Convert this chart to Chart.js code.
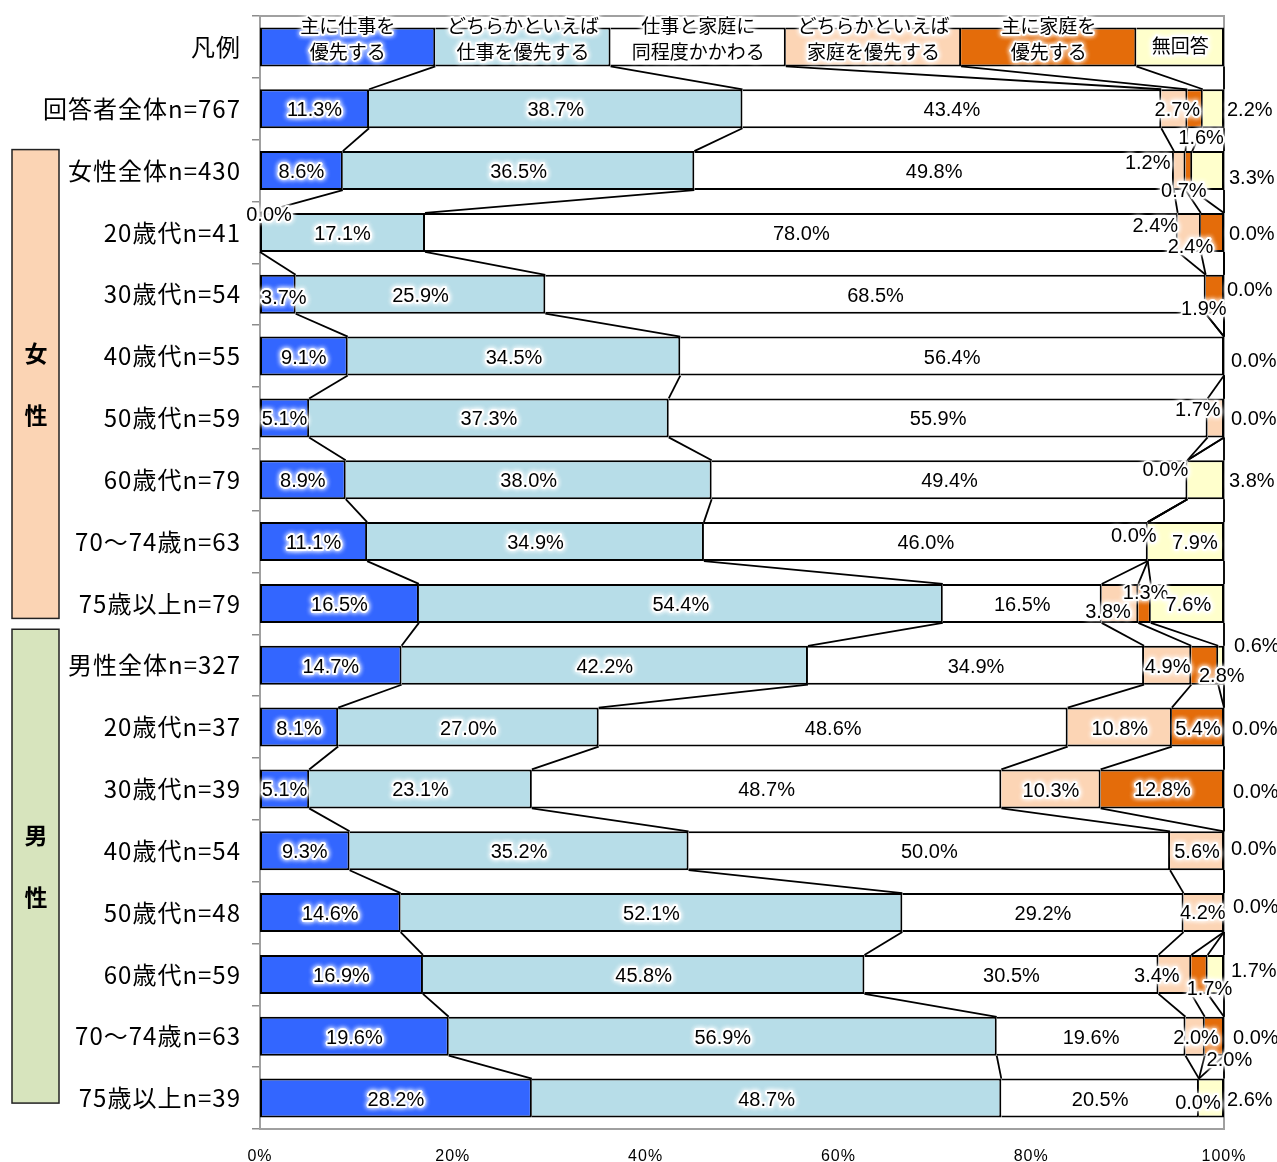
<!DOCTYPE html>
<html lang="ja">
<head>
<meta charset="utf-8">
<script src="https://cdn.jsdelivr.net/npm/chart.js@4.4.1/dist/chart.umd.min.js"></script>
<style>
  html, body { margin: 0; padding: 0; background: #ffffff; }
  #wrap { width: 1277px; height: 1162px; }
</style>
</head>
<body>
<div id="wrap"><canvas id="chart" width="1277" height="1162"></canvas></div>
<script>
// Row labels (the first row is the legend row)
const categories = [
  '凡例', '回答者全体n=767',
  '女性全体n=430', '20歳代n=41', '30歳代n=54', '40歳代n=55', '50歳代n=59', '60歳代n=79', '70～74歳n=63', '75歳以上n=79',
  '男性全体n=327', '20歳代n=37', '30歳代n=39', '40歳代n=54', '50歳代n=48', '60歳代n=59', '70～74歳n=63', '75歳以上n=39'
];

// Answer categories, written as they appear in the legend row
const seriesNames = [
  ['主に仕事を', '優先する'],
  ['どちらかといえば', '仕事を優先する'],
  ['仕事と家庭に', '同程度かかわる'],
  ['どちらかといえば', '家庭を優先する'],
  ['主に家庭を', '優先する'],
  ['無回答']
];

// Relative widths of the legend-row boxes
const legendShares = [2, 2, 2, 2, 2, 1];

// Percentages for each respondent group (rows 2..18)
const workMain = [11.3, 8.6, 0.0, 3.7, 9.1, 5.1, 8.9, 11.1, 16.5, 14.7, 8.1, 5.1, 9.3, 14.6, 16.9, 19.6, 28.2];
const workLean = [38.7, 36.5, 17.1, 25.9, 34.5, 37.3, 38.0, 34.9, 54.4, 42.2, 27.0, 23.1, 35.2, 52.1, 45.8, 56.9, 48.7];
const equalBoth = [43.4, 49.8, 78.0, 68.5, 56.4, 55.9, 49.4, 46.0, 16.5, 34.9, 48.6, 48.7, 50.0, 29.2, 30.5, 19.6, 20.5];
const homeLean = [2.7, 1.2, 2.4, 0.0, 0.0, 1.7, 0.0, 0.0, 3.8, 4.9, 10.8, 10.3, 5.6, 4.2, 3.4, 2.0, 0.0];
const homeMain = [1.6, 0.7, 2.4, 1.9, 0.0, 0.0, 0.0, 0.0, 1.3, 2.8, 5.4, 12.8, 0.0, 0.0, 1.7, 2.0, 0.0];
const noAnswer = [2.2, 3.3, 0.0, 0.0, 0.0, 0.0, 3.8, 7.9, 7.6, 0.6, 0.0, 0.0, 0.0, 0.0, 1.7, 0.0, 2.6];

const xTickLabels = ['0%', '20%', '40%', '60%', '80%', '100%'];

const seriesValues = [workMain, workLean, equalBoth, homeLean, homeMain, noAnswer];
const seriesColors = ['#3366FF', '#B7DDE8', '#FFFFFF', '#FCD5B5', '#E46C0A', '#FFFFCC'];

// Value-label placement per row/series: [anchor, dx, dy]
// 'c' = centre of the segment, 'e' = just past the 100% end (left aligned); null = no label
const C = ['c', 0, 0];
const labelPlacement = [
  [C, C, C, ['c', 3, 0], ['c', 6, 28], ['e', 3, 0]],
  [C, C, C, ['c', -32, -9], ['c', -5, 19], ['e', 5, 6]],
  [['c', 9, -19], C, C, ['c', -34, -8], ['c', -22, 13], ['e', 5, 0]],
  [['c', 6, 2], C, C, null, ['c', -11, 13], ['e', 3, -6]],
  [C, C, C, null, null, ['e', 7, 3]],
  [C, C, C, ['c', -18, -9], null, ['e', 7, 0]],
  [C, C, C, ['c', -22, -11], null, ['e', 5, 0]],
  [C, C, C, ['c', -14, -7], null, ['c', 9, 0]],
  [C, C, C, ['c', -12, 7], ['c', 1, -12], ['c', 1, 0]],
  [C, C, C, C, ['c', 17, 9], ['e', 10, -21]],
  [C, C, C, C, C, ['e', 8, 0]],
  [C, C, C, ['c', 0, 1], C, ['e', 9, 2]],
  [C, C, C, C, null, ['e', 7, -3]],
  [C, C, C, ['c', -1, -1], null, ['e', 9, -7]],
  [C, C, C, ['c', -18, 0], ['c', 10, 13], ['e', 7, -5]],
  [C, C, C, ['c', 1, 0], ['c', 15, 22], ['e', 9, 0]],
  [C, C, C, ['c', -1, 3], null, ['e', 3, 0]]
];
const LABEL_BASELINE_SHIFT = 2;

// Group boxes on the far left: [text, first row, last row, fill]
const groups = [
  [['女', '性'], 2, 9, '#FBD4B4'],
  [['男', '性'], 10, 17, '#D7E4BD']
];

// 100%-stacked rows: each row is scaled to a total of 100
const legendTotal = legendShares.reduce((a, b) => a + b, 0);
const rowTotals = workMain.map((_, i) => seriesValues.reduce((s, arr) => s + arr[i], 0));
const datasets = seriesValues.map((arr, k) => ({
  label: seriesNames[k].join(''),
  data: [legendShares[k] / legendTotal * 100].concat(arr.map((v, i) => v / rowTotals[i] * 100)),
  backgroundColor: seriesColors[k],
  borderColor: '#000000',
  borderWidth: 2,
  borderSkipped: (ctx) => {
    const i = ctx.dataIndex;
    let before = 0;
    for (let j = 0; j < ctx.datasetIndex; j++) before += ctx.chart.data.datasets[j].data[i];
    return before > 0 ? 'start' : false;
  },
  barPercentage: 1,
  categoryPercentage: 0.63,
  stack: 'all'
}));

const LABEL_FONT = '20px "Liberation Sans", Arial, sans-serif';
const CJK = '"Noto Sans CJK JP", "Noto Sans", sans-serif';

function glowText(ctx, text, x, y, align) {
  ctx.save();
  ctx.textAlign = align;
  ctx.textBaseline = 'middle';
  ctx.lineJoin = 'round';
  ctx.shadowColor = '#ffffff';
  ctx.shadowBlur = 5;
  ctx.strokeStyle = 'rgba(255,255,255,0.95)';
  ctx.lineWidth = 3.5;
  ctx.strokeText(text, x, y);
  ctx.strokeText(text, x, y);
  ctx.shadowBlur = 0;
  ctx.fillStyle = '#000000';
  ctx.fillText(text, x, y);
  ctx.restore();
}

// Slightly wider character spacing for the axis captions, normal for everything after them
const axisSpacing = {
  id: 'axisSpacing',
  beforeDraw(chart) { chart.ctx.letterSpacing = '1px'; },
  beforeDatasetsDraw(chart) { chart.ctx.letterSpacing = '0px'; }
};

const frame = {
  id: 'frame',
  beforeDatasetsDraw(chart) {
    const { ctx, chartArea: a } = chart;
    ctx.save();
    ctx.strokeStyle = '#A0A0A0';
    ctx.lineWidth = 2;
    ctx.strokeRect(a.left, a.top, a.right - a.left, a.bottom - a.top);
    ctx.restore();
  },
  afterDraw(chart) {
    const { ctx } = chart;
    const y = chart.scales.y;
    const step = y.getPixelForValue(1) - y.getPixelForValue(0);
    ctx.save();
    groups.forEach(([chars, first, last, fill], gi) => {
      const top = y.getPixelForValue(first) - (gi === 0 ? 21 : 36);
      const bottom = y.getPixelForValue(last) + (gi === 0 ? 15 : 5);
      ctx.fillStyle = fill;
      ctx.fillRect(12, top, 47, bottom - top);
      ctx.strokeStyle = '#222222';
      ctx.lineWidth = 1.5;
      ctx.strokeRect(12, top, 47, bottom - top);
      const mid = (top + bottom) / 2;
      ctx.fillStyle = '#000000';
      ctx.font = 'bold 23px ' + CJK;
      ctx.textAlign = 'center';
      ctx.textBaseline = 'middle';
      ctx.fillText(chars[0], 36, mid - step / 2);
      ctx.fillText(chars[1], 36, mid + step / 2);
    });
    ctx.restore();
  }
};

const seriesLinesAndLabels = {
  id: 'seriesLinesAndLabels',
  afterDatasetsDraw(chart) {
    const { ctx } = chart;
    const metas = chart.data.datasets.map((_, k) => chart.getDatasetMeta(k));
    const xEnd = chart.scales.x.getPixelForValue(100);

    // connector lines between neighbouring bars
    ctx.save();
    ctx.strokeStyle = '#000000';
    ctx.lineWidth = 1.8;
    metas.forEach(meta => {
      for (let i = 0; i < meta.data.length - 1; i++) {
        const a = meta.data[i].getProps(['x', 'y', 'height'], true);
        const b = meta.data[i + 1].getProps(['x', 'y', 'height'], true);
        ctx.beginPath();
        ctx.moveTo(a.x, a.y + a.height / 2);
        ctx.lineTo(b.x, b.y - b.height / 2);
        ctx.stroke();
      }
    });
    ctx.restore();

    // legend row captions
    ctx.save();
    ctx.font = '19px ' + CJK;
    metas.forEach((meta, k) => {
      const el = meta.data[0].getProps(['x', 'y', 'base'], true);
      const cx = (el.x + el.base) / 2;
      const lines = seriesNames[k];
      if (lines.length === 1) {
        glowText(ctx, lines[0], cx, el.y - 1, 'center');
      } else {
        glowText(ctx, lines[0], cx, el.y - 21, 'center');
        glowText(ctx, lines[1], cx, el.y + 5, 'center');
      }
    });
    ctx.restore();

    // value labels
    ctx.save();
    ctx.font = LABEL_FONT;
    metas.forEach((meta, k) => {
      for (let i = 1; i < meta.data.length; i++) {
        const p = labelPlacement[i - 1][k];
        if (!p) continue;
        const el = meta.data[i].getProps(['x', 'y', 'base'], true);
        const text = seriesValues[k][i - 1].toFixed(1) + '%';
        const ty = el.y + p[2] + LABEL_BASELINE_SHIFT;
        if (p[0] === 'e') {
          glowText(ctx, text, xEnd + p[1], ty, 'left');
        } else {
          glowText(ctx, text, (el.x + el.base) / 2 + p[1], ty, 'center');
        }
      }
    });
    ctx.restore();
  }
};

new Chart(document.getElementById('chart'), {
  type: 'bar',
  data: { labels: categories, datasets },
  options: {
    indexAxis: 'y',
    responsive: false,
    animation: false,
    devicePixelRatio: 1,
    layout: { padding: { top: 16, right: 53, left: 0, bottom: 0 } },
    plugins: { legend: { display: false }, tooltip: { enabled: false } },
    scales: {
      x: {
        stacked: true,
        min: 0,
        max: 100,
        afterFit: s => { s.height = 33; },
        grid: { display: false },
        border: { display: false },
        ticks: {
          stepSize: 20,
          padding: 10,
          color: '#000000',
          font: { family: '"Liberation Sans", Arial, sans-serif', size: 16 },
          callback: (v, i) => xTickLabels[i]
        }
      },
      y: {
        stacked: true,
        afterFit: s => { s.width = 260; s.paddingTop = 0; s.paddingBottom = 0; },
        grid: { display: true, drawOnChartArea: false, drawTicks: true, tickLength: 8, color: '#8C8C8C', lineWidth: 1.5 },
        border: { display: true, color: '#8C8C8C', width: 2 },
        ticks: {
          padding: 11,
          color: '#000000',
          font: { family: CJK, size: 24 }
        }
      }
    }
  },
  plugins: [axisSpacing, frame, seriesLinesAndLabels]
});
</script>
</body>
</html>
